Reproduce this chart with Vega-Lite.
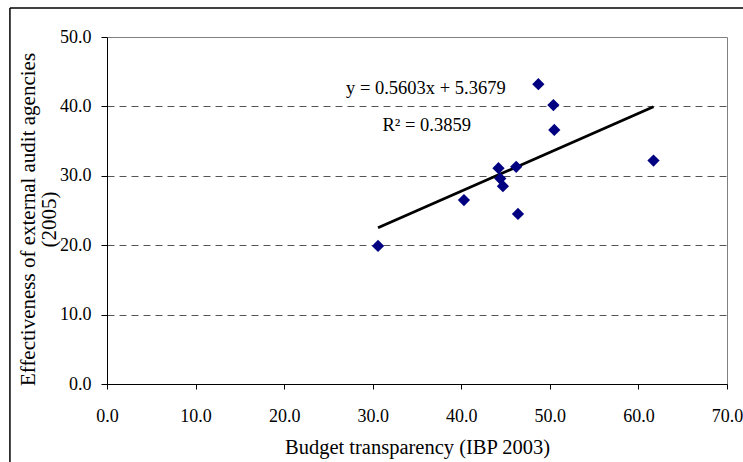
{
  "$schema": "https://vega.github.io/schema/vega-lite/v6.json",
  "width": 620,
  "height": 347,
  "autosize": "none",
  "padding": {"left": 107, "top": 37, "right": 16, "bottom": 78},
  "background": "white",
  "config": {
    "font": "Liberation Serif",
    "view": {"stroke": "#808080", "strokeWidth": 1},
    "axis": {
      "labelFont": "Liberation Serif",
      "titleFont": "Liberation Serif",
      "labelFontSize": 18,
      "titleFontSize": 20,
      "labelColor": "black",
      "titleColor": "black",
      "titleFontWeight": "normal",
      "domainColor": "black",
      "tickColor": "black",
      "domainWidth": 1,
      "tickWidth": 1
    }
  },
  "datasets": {
    "points": [
      {"transparency": 30.6, "effectiveness": 19.9},
      {"transparency": 40.3, "effectiveness": 26.5},
      {"transparency": 44.2, "effectiveness": 31.1},
      {"transparency": 44.4, "effectiveness": 29.6},
      {"transparency": 44.7, "effectiveness": 28.5},
      {"transparency": 46.2, "effectiveness": 31.3},
      {"transparency": 46.4, "effectiveness": 24.5},
      {"transparency": 48.7, "effectiveness": 43.2},
      {"transparency": 50.4, "effectiveness": 40.2},
      {"transparency": 50.5, "effectiveness": 36.6},
      {"transparency": 61.7, "effectiveness": 32.2}
    ],
    "trend": [
      {"transparency": 30.6, "effectiveness": 22.51},
      {"transparency": 61.7, "effectiveness": 39.94}
    ],
    "labels": [
      {"transparency": 36.0, "effectiveness": 42.65, "label": "y = 0.5603x + 5.3679"},
      {"transparency": 36.1, "effectiveness": 37.3, "label": "R² = 0.3859"}
    ]
  },
  "layer": [
    {
      "data": {"name": "trend"},
      "mark": {"type": "line", "color": "black", "strokeWidth": 2.8},
      "encoding": {
        "x": {
          "field": "transparency",
          "type": "quantitative",
          "scale": {"domain": [0, 70], "nice": false, "zero": false},
          "axis": {
            "title": "Budget transparency (IBP 2003)",
            "values": [0, 10, 20, 30, 40, 50, 60, 70],
            "format": ".1f",
            "grid": false,
            "tickSize": 5,
            "labelPadding": 18,
            "titlePadding": 12,
            "titleFontSize": 20.5,
            "labelFlush": false,
            "labelOverlap": false
          }
        },
        "y": {
          "field": "effectiveness",
          "type": "quantitative",
          "scale": {"domain": [0, 50], "nice": false, "zero": false},
          "axis": {
            "title": ["Effectiveness of external audit agencies", "(2005)"],
            "values": [0, 10, 20, 30, 40, 50],
            "format": ".1f",
            "grid": true,
            "gridColor": "#555555",
            "gridWidth": 1,
            "gridDash": [7, 5],
            "gridOpacity": {"condition": {"test": "datum.value === 50 || datum.value === 0", "value": 0}, "value": 1},
            "tickSize": 6,
            "labelPadding": 10,
            "titlePadding": 0,
            "titleFontSize": 21,
            "titleLineHeight": 21,
            "titleY": 182,
            "labelFlush": false,
            "labelOverlap": false
          }
        }
      }
    },
    {
      "data": {"name": "points"},
      "mark": {"type": "point", "shape": "diamond", "filled": true, "color": "#000080", "opacity": 1, "size": 150},
      "encoding": {
        "x": {"field": "transparency", "type": "quantitative"},
        "y": {"field": "effectiveness", "type": "quantitative"}
      }
    },
    {
      "data": {"name": "labels"},
      "mark": {"type": "text", "font": "Liberation Serif", "fontSize": 18.5, "color": "black", "align": "center", "baseline": "middle"},
      "encoding": {
        "x": {"field": "transparency", "type": "quantitative"},
        "y": {"field": "effectiveness", "type": "quantitative"},
        "text": {"field": "label"}
      }
    },
    {
      "data": {"values": [{"edge": "top"}]},
      "mark": {"type": "rule", "color": "black", "strokeWidth": 1.5, "clip": false},
      "encoding": {
        "x": {"datum": -10.96},
        "x2": {"datum": 80},
        "y": {"datum": 54.18}
      }
    },
    {
      "data": {"values": [{"edge": "left"}]},
      "mark": {"type": "rule", "color": "black", "strokeWidth": 1.5, "clip": false},
      "encoding": {
        "x": {"datum": -10.96},
        "y": {"datum": 54.18},
        "y2": {"datum": -15}
      }
    }
  ]
}
